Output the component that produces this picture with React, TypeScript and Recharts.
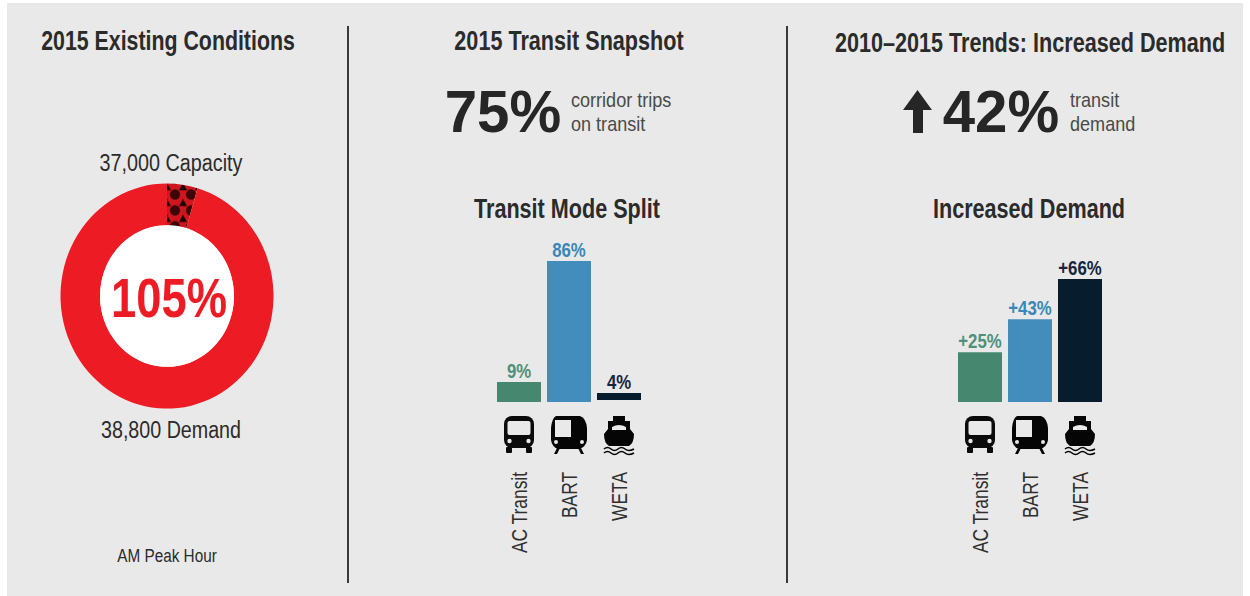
import { BarChart, Bar, XAxis, YAxis, Cell, LabelList, PieChart, Pie } from "recharts";

const FONT = "'Liberation Sans', sans-serif";

const MODES = ["AC Transit", "BART", "WETA"];
const MODE_COLORS = ["#46876f", "#438dbc", "#071d2e"];
const LABEL_COLORS = ["#4f9079", "#3a86b8", "#15263f"];

// printed labels
const MODE_SPLIT_LABELS = ["9%", "86%", "4%"];
const DEMAND_GROWTH_LABELS = ["+25%", "+43%", "+66%"];
// bar extents as drawn in the picture (the small bars are not quite to scale there,
// and the WETA bar sits slightly above the baseline)
const MODE_SPLIT_BARS = [[0, 12.2], [0, 86], [1.2, 5.5]];
const DEMAND_GROWTH_BARS = [26.5, 44, 65.4];

const CAPACITY = 37000;
const DEMAND = 38800;

const ringData = [
  { name: "Over capacity", value: DEMAND - CAPACITY },
  { name: "Capacity", value: CAPACITY },
];
const holeData = [{ name: "Hole", value: DEMAND }];

const splitRows = MODES.map((mode, i) => ({ mode, value: MODE_SPLIT_BARS[i], label: MODE_SPLIT_LABELS[i] }));
const growthRows = MODES.map((mode, i) => ({ mode, value: DEMAND_GROWTH_BARS[i], label: DEMAND_GROWTH_LABELS[i] }));

function BusIcon() {
  return (
    <g>
      <rect x={-15} y={0} width={30} height={32} rx={8} fill="#0a0a0a" />
      <rect x={-11.5} y={5} width={23} height={14} rx={2} fill="#e9e9e9" />
      <circle cx={-9.5} cy={25} r={2.2} fill="#e9e9e9" />
      <circle cx={9.5} cy={25} r={2.2} fill="#e9e9e9" />
      <rect x={-13} y={31} width={6} height={6} rx={1} fill="#0a0a0a" />
      <rect x={7} y={31} width={6} height={6} rx={1} fill="#0a0a0a" />
    </g>
  );
}

function TrainIcon() {
  return (
    <g>
      <path d="M-13 0 H11 Q17 2 18 12 V24 Q17 31 10 33 H-11 Q-17 31 -18 24 V12 Q-17 2 -13 0 Z" fill="#050505" />
      <rect x={-14} y={4} width={16} height={17} fill="#e9e9e9" />
      <circle cx={-13} cy={26} r={2} fill="#e9e9e9" />
      <circle cx={13} cy={26} r={2} fill="#e9e9e9" />
      <path d="M-12 32 L-15 38 H-12 L-9 32 Z M12 32 L15 38 H12 L9 32 Z" fill="#050505" />
    </g>
  );
}

function FerryIcon() {
  return (
    <g>
      <rect x={-6} y={0} width={12} height={5} fill="#050505" />
      <path d="M-11 5 H11 V13 L15 18 Q15 27 10 30 H-10 Q-15 27 -15 18 L-11 13 Z" fill="#050505" />
      <path d="M-7 11 Q0 7 7 11 V14 H-7 Z" fill="#e9e9e9" />
      <path d="M-15 33 Q-11.5 30 -8 33 T-1 33 T6 33 T15 33 M-15 37 Q-11.5 34 -8 37 T-1 37 T6 37 T15 37" fill="none" stroke="#050505" strokeWidth={1.6} />
    </g>
  );
}

const ICONS = [BusIcon, TrainIcon, FerryIcon];

function ModeTick(props: any) {
  const { x, y, payload, index } = props;
  const Icon = ICONS[index % ICONS.length];
  return (
    <g>
      <g transform={`translate(${x},${y + 14})`}>
        <Icon />
      </g>
      <text
        transform={`translate(${x + 8},${y + 70}) rotate(-90) scale(0.79,1)`}
        textAnchor="end"
        fontFamily={FONT}
        fontSize={22}
        fill="#2f2f2f"
      >
        {payload.value}
      </text>
    </g>
  );
}

function BarTopLabel(props: any) {
  const { x, y, width, value, index } = props;
  return (
    <text
      transform={`translate(${x + width / 2},${y - 4}) scale(0.84,1)`}
      textAnchor="middle"
      fontFamily={FONT}
      fontWeight="bold"
      fontSize={20}
      fill={LABEL_COLORS[index]}
    >
      {value}
    </text>
  );
}

function ModeBars({ rows, left, top, height, marginTop }: any) {
  return (
    <div style={{ position: "absolute", left, top }}>
      <BarChart
        width={150}
        height={height}
        data={rows}
        margin={{ top: marginTop, right: 0, bottom: 0, left: 0 }}
        barSize={44}
      >
        <XAxis
          dataKey="mode"
          axisLine={false}
          tickLine={false}
          tickSize={0}
          tickMargin={0}
          interval={0}
          height={160}
          tick={(p: any) => <ModeTick {...p} />}
        />
        <YAxis hide domain={[0, 100]} />
        <Bar dataKey="value" isAnimationActive={false}>
          {rows.map((r: any, i: number) => (
            <Cell key={r.mode} fill={MODE_COLORS[i]} />
          ))}
          <LabelList dataKey="label" content={(p: any) => <BarTopLabel {...p} />} />
        </Bar>
      </BarChart>
    </div>
  );
}

function Label({ x, y, size, bold, color, sx, children }: any) {
  return (
    <div
      style={{
        position: "absolute",
        left: x,
        top: y,
        transform: `translate(-50%, -50%) scaleX(${sx ?? 0.8})`,
        fontFamily: FONT,
        fontSize: size,
        fontWeight: bold ? "bold" : "normal",
        color: color ?? "#2b2b2b",
        whiteSpace: "nowrap",
        lineHeight: 1,
      }}
    >
      {children}
    </div>
  );
}

function SideNote({ x, children }: any) {
  return (
    <div
      style={{
        position: "absolute",
        left: x,
        top: 88,
        transform: "scaleX(0.86)",
        transformOrigin: "0 0",
        whiteSpace: "nowrap",
        fontFamily: FONT,
        fontSize: 21,
        lineHeight: "24px",
        color: "#4a4a4a",
      }}
    >
      {children}
    </div>
  );
}

export default function App() {
  return (
    <div style={{ position: "absolute", left: 0, top: 0, width: 1250, height: 596, background: "#fff", overflow: "hidden" }}>
      <div style={{ position: "absolute", left: 7, top: 3, width: 1236, height: 593, background: "#e9e9e9" }} />
      <div style={{ position: "absolute", left: 347, top: 26, width: 2, height: 557, background: "#3a3a3a" }} />
      <div style={{ position: "absolute", left: 786, top: 26, width: 2, height: 557, background: "#3a3a3a" }} />

      <Label x={167.5} y={41} size={27} bold sx={0.79}>2015 Existing Conditions</Label>
      <Label x={569} y={41} size={27} bold>2015 Transit Snapshot</Label>
      <Label x={1030} y={43} size={27} bold>2010–2015 Trends: Increased Demand</Label>

      <Label x={170.5} y={163} size={23} sx={0.86}>37,000 Capacity</Label>
      <Label x={171} y={430} size={23} sx={0.855}>38,800 Demand</Label>
      <Label x={166.5} y={556} size={18} sx={0.85}>AM Peak Hour</Label>

      <div style={{ position: "absolute", left: 47, top: 176, transform: "scaleY(1.057)", transformOrigin: "50% 50%" }}>
        <PieChart width={240} height={240} margin={{ top: 0, right: 0, bottom: 0, left: 0 }}>
          <defs>
            <pattern id="overflowHatch" patternUnits="userSpaceOnUse" width={16} height={15} x={8} y={1}>
              <rect width={16} height={15} fill="#cf151d" />
              <circle cx={8} cy={8} r={5} fill="#3c0508" />
              <path d="M-4 4 L0 -3 L4 4 Z M12 4 L16 -3 L20 4 Z M-4 19 L0 12 L4 19 Z M12 19 L16 12 L20 19 Z" fill="#1c0305" />
            </pattern>
          </defs>
          <Pie
            data={ringData}
            dataKey="value"
            cx={120}
            cy={120}
            innerRadius={67}
            outerRadius={106.5}
            startAngle={90}
            endAngle={-270}
            stroke="none"
            isAnimationActive={false}
          >
            <Cell fill="url(#overflowHatch)" />
            <Cell fill="#ed1c24" />
          </Pie>
          <Pie
            data={holeData}
            dataKey="value"
            cx={120}
            cy={120}
            innerRadius={0}
            outerRadius={67}
            stroke="none"
            fill="#ffffff"
            isAnimationActive={false}
          />
        </PieChart>
      </div>
      <Label x={168.5} y={298} size={56} bold sx={0.81} color="#ed1c24">105%</Label>

      <Label x={502.5} y={112} size={60} bold sx={0.97} color="#262626">75%</Label>
      <SideNote x={571}>corridor trips<br />on transit</SideNote>
      <Label x={567} y={209} size={27} bold>Transit Mode Split</Label>

      <svg style={{ position: "absolute", left: 900, top: 88 }} width={36} height={50}>
        <path d="M17.5 2 L32 22 H23 V45 H13 V22 H3 Z" fill="#262626" />
      </svg>
      <Label x={1001} y={112} size={60} bold sx={0.97} color="#262626">42%</Label>
      <SideNote x={1070}>transit<br />demand</SideNote>
      <Label x={1029} y={209} size={27} bold>Increased Demand</Label>

      <ModeBars rows={splitRows} left={493.5} top={225} height={337} marginTop={13} />
      <ModeBars rows={growthRows} left={955} top={200} height={362} marginTop={14} />
    </div>
  );
}
